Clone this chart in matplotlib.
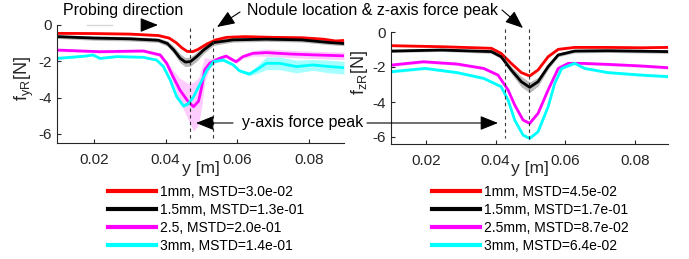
import matplotlib
matplotlib.use('Agg')
import matplotlib.pyplot as plt
from matplotlib.patches import FancyArrowPatch
from matplotlib.lines import Line2D

plt.rcParams['font.family'] = ['Liberation Sans', 'DejaVu Sans']
plt.rcParams['mathtext.fontset'] = 'custom'
plt.rcParams['mathtext.rm'] = 'Liberation Sans'
plt.rcParams['mathtext.it'] = 'Liberation Sans'

# ---- left panel: f_yR ----
yl_x_red = [0.0097, 0.02, 0.03, 0.038, 0.041, 0.043, 0.0445, 0.046, 0.0475, 0.049, 0.0515, 0.054,
            0.057, 0.062, 0.07, 0.078, 0.084, 0.0875, 0.0898]
yl_red = [-0.46, -0.47, -0.50, -0.58, -0.72, -0.98, -1.25, -1.45, -1.47, -1.35, -1.05, -0.82,
          -0.68, -0.64, -0.68, -0.70, -0.78, -0.88, -0.85]

yl_x_blk = [0.0097, 0.02, 0.03, 0.038, 0.0405, 0.0423, 0.0441, 0.0455, 0.0469, 0.0487, 0.0506,
            0.0534, 0.0588, 0.068, 0.078, 0.086, 0.0898]
yl_blk = [-0.64, -0.72, -0.76, -0.84, -1.02, -1.38, -1.84, -2.04, -2.02, -1.74, -1.38,
          -0.97, -0.82, -0.78, -0.82, -0.97, -1.02]
yl_blk_sd = [0.1, 0.12, 0.12, 0.12, 0.15, 0.2, 0.25, 0.25, 0.25, 0.25, 0.2,
             0.15, 0.12, 0.12, 0.12, 0.12, 0.12]

yl_x_mag = [0.0097, 0.0217, 0.0338, 0.0385, 0.0403, 0.0421, 0.044, 0.0463, 0.0478, 0.0492, 0.0501,
            0.0509, 0.0523, 0.055, 0.0569, 0.0588, 0.0597, 0.0616, 0.0644, 0.0681, 0.075, 0.082, 0.0898]
yl_mag = [-1.38, -1.47, -1.43, -1.65, -2.11, -2.85, -3.58, -4.22, -4.5, -4.2, -3.4,
          -2.48, -2.11, -1.84, -1.71, -1.93, -2.02, -1.74, -1.56, -1.52, -1.6, -1.65, -1.7]
yl_mag_sd = [0.08, 0.08, 0.08, 0.1, 0.15, 0.35, 0.65, 1.0, 1.35, 1.3, 1.1,
             0.7, 0.25, 0.1, 0.1, 0.1, 0.1, 0.1, 0.15, 0.2, 0.2, 0.2, 0.2]

yl_x_cyn = [0.0097, 0.0178, 0.0197, 0.0217, 0.0264, 0.0338, 0.0375, 0.0394, 0.0413, 0.0431, 0.045,
            0.0464, 0.0478, 0.0497, 0.0516, 0.0534, 0.0561, 0.0589, 0.0606, 0.0634, 0.0653, 0.0681,
            0.0718, 0.0765, 0.0811, 0.0857, 0.0898]
yl_cyn = [-1.84, -1.71, -1.65, -1.84, -1.74, -1.78, -1.93, -2.29, -3.03, -3.95, -4.46,
          -4.32, -3.95, -3.22, -2.48, -2.02, -1.93, -2.2, -2.52, -2.7, -2.48, -2.11,
          -2.11, -2.29, -2.2, -2.29, -2.35]
yl_cyn_sd = [0.05, 0.05, 0.05, 0.05, 0.05, 0.05, 0.05, 0.08, 0.1, 0.1, 0.1,
             0.1, 0.1, 0.1, 0.08, 0.06, 0.06, 0.06, 0.08, 0.1, 0.2, 0.35,
             0.35, 0.35, 0.3, 0.35, 0.35]

# ---- right panel: f_zR ----
zr_x_red = [0.01, 0.0244, 0.0388, 0.0416, 0.0445, 0.0474, 0.0498, 0.0522, 0.0551, 0.058, 0.0627,
            0.0723, 0.0818, 0.0895]
zr_red = [-0.78, -0.84, -0.93, -1.22, -1.79, -2.32, -2.51, -2.17, -1.41, -0.99, -0.88,
          -0.88, -0.9, -0.88]

zr_x_blk = [0.01, 0.0244, 0.0388, 0.0416, 0.0445, 0.0474, 0.0498, 0.0522, 0.0551, 0.058, 0.0627,
            0.0723, 0.0895]
zr_blk = [-1.09, -1.03, -1.12, -1.41, -2.17, -2.84, -3.16, -2.84, -1.98, -1.31, -1.09, -1.07, -1.12]
zr_blk_sd = [0.08, 0.08, 0.1, 0.12, 0.2, 0.3, 0.3, 0.25, 0.15, 0.1, 0.1, 0.1, 0.1]

zr_x_mag = [0.01, 0.0193, 0.029, 0.0366, 0.0407, 0.0436, 0.0455, 0.0479, 0.0498, 0.0522, 0.0551,
            0.058, 0.0609, 0.0647, 0.0723, 0.0818, 0.0895]
zr_mag = [-1.89, -1.70, -1.83, -2.08, -2.46, -3.31, -4.17, -5.03, -5.22, -4.65, -3.31,
          -2.08, -1.79, -1.79, -1.85, -1.94, -2.04]

zr_x_cyn = [0.01, 0.0198, 0.029, 0.0366, 0.0416, 0.0436, 0.0455, 0.0479, 0.0498, 0.0522, 0.0551,
            0.057, 0.059, 0.0627, 0.0656, 0.0723, 0.0818, 0.0895]
zr_cyn = [-2.27, -2.08, -2.32, -2.65, -3.12, -3.89, -5.03, -5.89, -6.08, -5.70, -4.27,
          -2.93, -2.08, -1.79, -2.08, -2.32, -2.46, -2.55]

labels_y = ['1mm, MSTD=3.0e-02', '1.5mm, MSTD=1.3e-01', '2.5, MSTD=2.0e-01', '3mm, MSTD=1.4e-01']
labels_z = ['1mm, MSTD=4.5e-02', '1.5mm, MSTD=1.7e-01', '2.5mm, MSTD=8.7e-02', '3mm, MSTD=6.4e-02']
colors = ['#ff0000', '#000000', '#ff00ff', '#00ffff']

peaks_y = [0.0468, 0.0533]
peaks_z = [0.0427, 0.0496]

W, H = 689, 259
fig = plt.figure(figsize=(W / 100, H / 100), dpi=100)


def fx(px):
    return px / W


def fy(py):
    return 1 - py / H


def band(ax, x, y, sd, color, alpha):
    lo = [a - b for a, b in zip(y, sd)]
    hi = [a + b for a, b in zip(y, sd)]
    ax.fill_between(x, lo, hi, color=color, alpha=alpha, lw=0)


def style(ax, ylab, ylab_y):
    ax.spines['top'].set_visible(False)
    ax.spines['right'].set_visible(False)
    ax.spines['left'].set_color('#262626')
    ax.spines['bottom'].set_color('#262626')
    ax.tick_params(direction='in', length=3, labelsize=11, colors='#262626')
    ax.tick_params(axis='x', pad=7)
    ax.tick_params(axis='y', pad=3.5)
    ax.set_xticks([0.02, 0.04, 0.06, 0.08])
    ax.set_xticklabels(['0.02', '0.04', '0.06', '0.08'])
    ax.set_yticks([0, -2, -4, -6])
    ax.set_yticklabels(['0', '-2', '-4', '-6'])
    ax.set_xlabel('y [m]', fontsize=12.5, color='#262626', va='top')
    ax.xaxis.set_label_coords(0.5, -0.15)
    ax.set_ylabel(ylab, fontsize=13, color='#262626', va='center')
    ax.yaxis.set_label_coords(-0.115, ylab_y)


# left axes
ax1 = fig.add_axes([fx(57), fy(143), fx(344) - fx(57), fy(25) - fy(143)])
band(ax1, yl_x_red, yl_red, [0.06] * len(yl_red), colors[0], 0.25)
band(ax1, yl_x_blk, yl_blk, yl_blk_sd, '#808080', 0.55)
band(ax1, yl_x_mag, yl_mag, yl_mag_sd, colors[2], 0.2)
band(ax1, yl_x_cyn, yl_cyn, yl_cyn_sd, colors[3], 0.35)
ax1.plot(yl_x_red, yl_red, color=colors[0], lw=2)
ax1.plot(yl_x_blk, yl_blk, color=colors[1], lw=2)
ax1.plot(yl_x_mag, yl_mag, color=colors[2], lw=2)
ax1.plot(yl_x_cyn, yl_cyn, color=colors[3], lw=2)
for p in peaks_y:
    ax1.plot([p, p], [-0.18, -6.3], ls='--', color='#333333', lw=0.8, dashes=(3, 3), clip_on=False)
ax1.set_xlim(0.0097, 0.0898)
ax1.set_ylim(-6.5, 0)
style(ax1, r'$\mathregular{f_{yR}[N]}$', 0.55)

# right axes
ax2 = fig.add_axes([fx(391), fy(144), fx(668) - fx(391), fy(32) - fy(144)])
band(ax2, zr_x_red, zr_red, [0.06] * len(zr_red), colors[0], 0.25)
band(ax2, zr_x_blk, zr_blk, zr_blk_sd, '#808080', 0.55)
band(ax2, zr_x_mag, zr_mag, [0.08] * len(zr_mag), colors[2], 0.25)
band(ax2, zr_x_cyn, zr_cyn, [0.08] * len(zr_cyn), colors[3], 0.25)
ax2.plot(zr_x_red, zr_red, color=colors[0], lw=2)
ax2.plot(zr_x_blk, zr_blk, color=colors[1], lw=2)
ax2.plot(zr_x_mag, zr_mag, color=colors[2], lw=2)
ax2.plot(zr_x_cyn, zr_cyn, color=colors[3], lw=2)
ax2.plot([peaks_z[0]] * 2, [0.15, -6.05], ls='--', color='#333333', lw=0.8, dashes=(3, 3), clip_on=False)
ax2.plot([peaks_z[1]] * 2, [0.2, -6.2], ls='--', color='#333333', lw=0.8, dashes=(3, 3), clip_on=False)
ax2.set_xlim(0.01, 0.0895)
ax2.set_ylim(-6.4, 0)
style(ax2, r'$\mathregular{f_{zR}[N]}$', 0.64)

# legends
for ax, labs, x0 in [(ax1, labels_y, 108), (ax2, labels_z, 432)]:
    handles = [Line2D([], [], color=c, lw=3) for c in colors]
    ax.legend(handles, labs, loc='upper left', bbox_to_anchor=(fx(x0), fy(185)),
              bbox_transform=fig.transFigure, frameon=False, fontsize=10,
              handlelength=3.45, handletextpad=0.3, labelspacing=0.28,
              borderpad=0, borderaxespad=0)

# annotations
fig.text(fx(63), fy(11), 'Probing direction', fontsize=11.5, va='center', ha='left')
fig.text(fx(247), fy(11), 'Nodule location & z-axis force peak', fontsize=11.5, va='center', ha='left')
fig.text(fx(242), fy(123), 'y-axis force peak', fontsize=11.5, va='center', ha='left')

fig.add_artist(Line2D([fx(87), fx(112)], [fy(25), fy(25)], color='#d8d8d8', lw=1,
                      transform=fig.transFigure))


def arrow(p0, p1):
    fig.add_artist(FancyArrowPatch((fx(p0[0]), fy(p0[1])), (fx(p1[0]), fy(p1[1])),
                                   transform=fig.transFigure,
                                   arrowstyle='-|>,head_length=1.0,head_width=0.4',
                                   mutation_scale=11, lw=0.8, color='k',
                                   shrinkA=0, shrinkB=0))


arrow((147, 25), (158, 25))
arrow((240, 12), (217, 27))
arrow((502, 10), (523, 28))
arrow((233, 123), (196, 123))
arrow((367, 123), (498, 123))

fig.savefig('out.png', dpi=100)
